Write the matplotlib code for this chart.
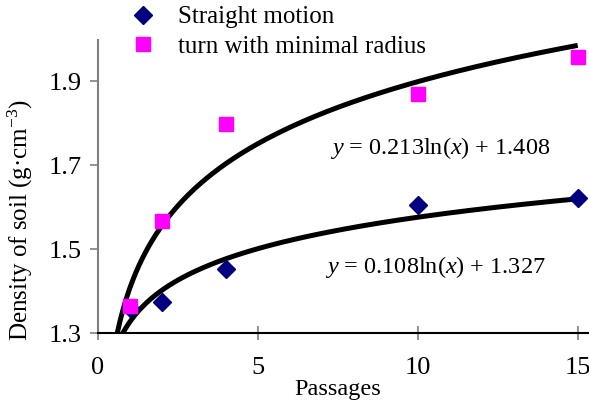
import numpy as np
import matplotlib
matplotlib.use("Agg")
import matplotlib.pyplot as plt

# passages and measured soil density
passes = [1, 2, 4, 10, 15]
straight = [1.36, 1.374, 1.452, 1.605, 1.621]
turn = [1.364, 1.567, 1.798, 1.869, 1.957]

# log trendline coefficients (a*ln(x) + b)
fit_straight = (0.108, 1.327)
fit_turn = (0.213, 1.408)

plt.rcParams['font.family'] = 'Liberation Serif'
plt.rcParams['mathtext.fontset'] = 'custom'
plt.rcParams['mathtext.rm'] = 'Liberation Serif'
plt.rcParams['mathtext.it'] = 'Liberation Serif:italic'

PX = 31.98  # pixels per passage
fig = plt.figure(figsize=(5.89, 4.03), dpi=100)
ax = fig.add_axes([98 / 589, 70 / 403, 491 / 589, 293 / 403])

xs = np.linspace(0.5, 15, 300)
for a, b in (fit_turn, fit_straight):
    ax.plot(xs, a * np.log(xs) + b, color='black', lw=3.6, zorder=2,
            solid_capstyle='butt')

h1, = ax.plot(passes, straight, 'D', color='#000080', ms=9.5, ls='none',
              zorder=3, label='Straight motion')
h2, = ax.plot(passes, turn, 's', color='#ff00ff', ms=10.5, ls='none',
              zorder=4, label='turn with minimal radius')

ax.text((440 - 98) / PX, 1.740, '$y$ = 0.213ln($x$) + 1.408', fontsize=17.5,
        ha='center', va='center')
ax.text((435 - 98) / PX, 1.458, '$y$ = 0.108ln($x$) + 1.327', fontsize=17.5,
        ha='center', va='center')

ax.set_xlim(0, 491 / PX)
ax.set_ylim(1.3, 1.3 + 293 / 420)
ax.set_xticks([0, 5, 10, 15])
ax.set_yticks([1.3, 1.5, 1.7, 1.9])
ax.set_yticklabels(['1.3', '1.5', '1.7', '1.9'])

for s in ('top', 'right'):
    ax.spines[s].set_visible(False)
ax.spines['left'].set_color('#808080')
ax.spines['left'].set_linewidth(1.5)
ax.spines['bottom'].set_linewidth(1.5)
ax.tick_params(axis='y', direction='out', length=6, width=1.2, color='#808080',
               labelsize=19, pad=6)
ax.tick_params(axis='x', direction='inout', length=10, width=1.2, color='#808080',
               labelsize=19, pad=12)

ax.set_xlabel('Passages', fontsize=17.5)
ax.xaxis.set_label_coords((338 - 98) / 491, -(390 - 333) / 293)
ax.set_ylabel('Density of soil (g·cm$^{-3}$)', fontsize=18)
ax.yaxis.set_label_coords((20 - 98) / 491, (333 - 220) / 293)
ax.yaxis.label.set_va('center')
ax.xaxis.label.set_va('center')

fig.legend(handles=[h1, h2], loc='upper left', bbox_to_anchor=(130 / 589, 1 - 6 / 403),
           frameon=False, fontsize=18, handlelength=1.0, handletextpad=0.9,
           labelspacing=0.28, borderaxespad=0, borderpad=0)

fig.savefig('out.png', dpi=100)
